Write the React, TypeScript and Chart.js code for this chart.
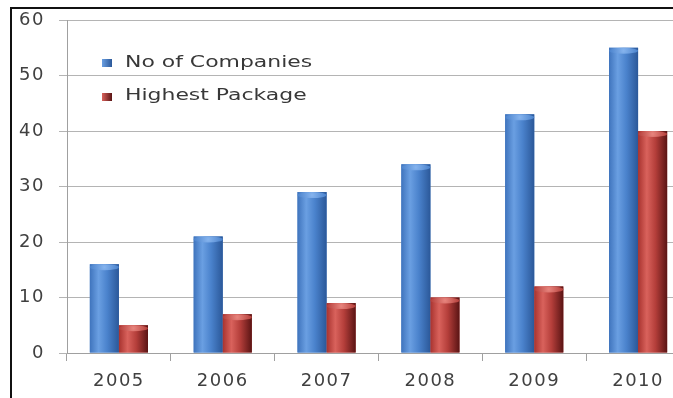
import React, { useEffect, useRef } from "react";
import { Chart, registerables } from "chart.js";

Chart.register(...registerables);

const categories = ["2005", "2006", "2007", "2008", "2009", "2010"];
const seriesNames = ["No of Companies", "Highest Package"];
const companies = [16, 21, 29, 34, 43, 55];
const highestPackage = [5, 7, 9, 10, 12, 40];
const yMin = 0;
const yMax = 60;
const yStep = 10;

const palette = [
  { base: "#4a80c8", stops: ["#3f74bd", "#6a9fe2", "#4a82cc", "#2b5899"], cap: "#86b4ee" },
  { base: "#b8413e", stops: ["#a8332f", "#d9625c", "#b43e3a", "#5a1414"], cap: "#e8857e" },
];

const FONT = '"DejaVu Sans", Verdana, sans-serif';

const textSpacingPlugin = {
  id: "textSpacing",
  beforeUpdate(chart: any) {
    (chart.ctx as any).letterSpacing = "1.5px";
  },
  beforeDraw(chart: any) {
    (chart.ctx as any).letterSpacing = "1.5px";
  },
};

const barShadePlugin = {
  id: "barShade",
  afterDatasetsDraw(chart: any) {
    const ctx = chart.ctx;
    chart.data.datasets.forEach((ds: any, i: number) => {
      const meta = chart.getDatasetMeta(i);
      const p = palette[i];
      meta.data.forEach((bar: any) => {
        const { x, y, base, width } = bar.getProps(["x", "y", "base", "width"], true);
        const l = x - width / 2;
        const g = ctx.createLinearGradient(l, 0, l + width, 0);
        g.addColorStop(0, p.stops[0]);
        g.addColorStop(0.3, p.stops[1]);
        g.addColorStop(0.6, p.stops[2]);
        g.addColorStop(1, p.stops[3]);
        ctx.save();
        ctx.fillStyle = g;
        ctx.fillRect(l, y, width, base - y);
        const cg = ctx.createRadialGradient(x, y + 3, 0, x, y + 3, width / 2);
        cg.addColorStop(0, p.cap);
        cg.addColorStop(1, p.stops[2]);
        ctx.fillStyle = cg;
        ctx.beginPath();
        ctx.ellipse(x, y + 3, width / 2, 3, 0, 0, Math.PI * 2);
        ctx.fill();
        ctx.restore();
      });
    });
  },
};

const legendPlugin = {
  id: "insideLegend",
  afterDraw(chart: any) {
    const ctx = chart.ctx;
    chart.data.datasets.forEach((ds: any, i: number) => {
      const p = palette[i];
      ctx.save();
      const sy = 59 + i * 34;
      const g = ctx.createLinearGradient(102, 0, 112, 0);
      g.addColorStop(0, p.stops[1]);
      g.addColorStop(1, p.stops[3]);
      ctx.fillStyle = g;
      ctx.fillRect(102, sy, 10, 8);
      (ctx as any).letterSpacing = "0px";
      ctx.font = "16px " + FONT;
      ctx.fillStyle = "#383838";
      ctx.textBaseline = "alphabetic";
      ctx.textAlign = "left";
      ctx.translate(125, 67 + i * 33);
      ctx.scale(1.37, 1);
      ctx.fillText(ds.label, 0, 0);
      ctx.restore();
    });
  },
};

export default function App() {
  const ref = useRef<HTMLCanvasElement | null>(null);

  useEffect(() => {
    if (!ref.current) return;
    document.body.style.overflow = "hidden";
    const chart = new Chart(ref.current, {
      type: "bar",
      data: {
        labels: categories,
        datasets: [
          {
            label: seriesNames[0],
            data: companies,
            backgroundColor: palette[0].base,
            categoryPercentage: 0.56,
            barPercentage: 1,
          },
          {
            label: seriesNames[1],
            data: highestPackage,
            backgroundColor: palette[1].base,
            categoryPercentage: 0.56,
            barPercentage: 1,
          },
        ],
      },
      options: {
        responsive: false,
        animation: false,
        layout: { padding: { top: 20, left: 0, right: 0, bottom: 0 } },
        plugins: {
          legend: { display: false },
          tooltip: { enabled: false },
        },
        scales: {
          x: {
            grid: {
              display: true,
              drawOnChartArea: false,
              drawTicks: true,
              tickLength: 8,
              color: "#a0a0a0",
              offset: true,
            },
            border: { color: "#a0a0a0" },
            ticks: {
              font: { family: FONT, size: 18 },
              color: "#404040",
              padding: 10,
              maxRotation: 0,
            },
            afterFit(scale: any) {
              scale.height = 45;
              scale.paddingLeft = 0;
              scale.paddingRight = 0;
            },
          },
          y: {
            min: yMin,
            max: yMax,
            grid: { color: "#b4b4b4", tickLength: 8 },
            border: { color: "#a0a0a0" },
            ticks: {
              stepSize: yStep,
              font: { family: FONT, size: 18 },
              color: "#404040",
              padding: 14,
            },
            afterFit(scale: any) {
              scale.width = 67;
              scale.paddingTop = 0;
              scale.paddingBottom = 0;
            },
          },
        },
      },
      plugins: [textSpacingPlugin, barShadePlugin, legendPlugin],
    });
    return () => chart.destroy();
  }, []);

  return (
    <div
      style={{
        position: "fixed",
        left: 0,
        top: 0,
        width: 673,
        height: 398,
        overflow: "hidden",
        background: "#ffffff",
      }}
    >
      <div
        style={{
          position: "absolute",
          left: 10,
          top: 7,
          width: 720,
          height: 500,
          borderTop: "2px solid #111",
          borderLeft: "2px solid #111",
        }}
      />
      <canvas
        ref={ref}
        width={690}
        height={398}
        style={{ position: "absolute", left: 0, top: 0, width: 690, height: 398 }}
      />
    </div>
  );
}
